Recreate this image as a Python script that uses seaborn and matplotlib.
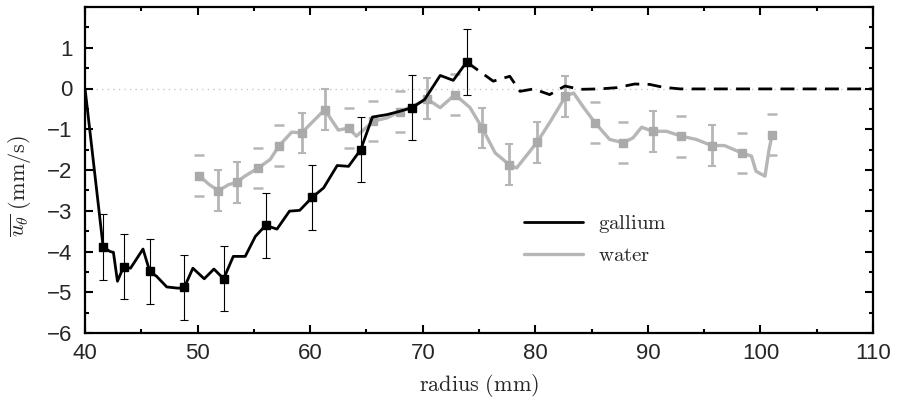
import numpy as np
import pandas as pd
import matplotlib
matplotlib.use("Agg")
import matplotlib.pyplot as plt
from matplotlib.ticker import MultipleLocator
import seaborn as sns

sns.set_theme(style="ticks")
plt.rcParams["font.family"] = ["Liberation Sans", "DejaVu Sans"]
plt.rcParams["mathtext.fontset"] = "cm"

# gallium: solid part (measured trace), squares carry error bars
ga_x = [40.0, 41.61, 42.22, 42.52, 42.88, 43.43, 44.04, 45.15, 45.75, 46.36, 47.26, 48.27,
        48.82, 49.58, 50.59, 51.45, 52.31, 53.17, 54.23, 55.13, 56.04, 57.05, 58.16, 59.07,
        60.18, 61.19, 62.4, 63.41, 64.49, 65.53, 66.84, 67.95, 69.06, 70.17, 71.55, 72.71, 73.9]
ga_y = [0.0, -3.89, -4.0, -4.02, -4.73, -4.37, -4.41, -3.94, -4.49, -4.61, -4.87, -4.9,
        -4.88, -4.41, -4.67, -4.43, -4.67, -4.12, -4.12, -3.63, -3.36, -3.45, -3.01, -2.99,
        -2.67, -2.44, -1.89, -1.91, -1.5, -0.7, -0.64, -0.56, -0.47, -0.27, 0.32, 0.2, 0.65]
# gallium: dashed continuation
ga_dash_x = [73.9, 76.26, 77.73, 78.64, 79.85, 81.27, 82.63, 83.99, 85.71, 87.22, 88.83,
             90.15, 91.36, 92.87, 110.0]
ga_dash_y = [0.65, 0.18, 0.3, -0.07, -0.01, -0.15, 0.06, -0.02, -0.01, 0.02, 0.11,
             0.1, 0.03, -0.01, -0.01]
ga_mx = [41.61, 43.43, 45.75, 48.82, 52.31, 56.04, 60.18, 64.49, 69.06, 73.9]
ga_my = [-3.89, -4.37, -4.49, -4.88, -4.67, -3.36, -2.67, -1.5, -0.47, 0.65]
ga_err = 0.8

# water
wa_x = [50.15, 51.0, 51.84, 52.75, 53.47, 54.2, 55.39, 56.45, 57.25, 58.36, 59.24, 61.29,
        62.5, 63.41, 64.1, 65.62, 66.84, 67.95, 69.16, 70.34, 71.55, 72.86, 74.2, 75.28,
        76.43, 77.68, 78.34, 80.15, 81.27, 82.34, 82.68, 83.4, 84.3, 85.3, 86.6, 87.82,
        88.68, 89.44, 90.41, 91.65, 92.97, 94.3, 95.66, 96.8, 98.32, 99.2, 99.6, 100.4,
        100.76, 101.04]
wa_y = [-2.14, -2.35, -2.51, -2.36, -2.3, -2.15, -1.95, -1.74, -1.4, -1.07, -1.09, -0.52,
        -1.02, -0.97, -1.17, -0.8, -0.72, -0.57, -0.43, -0.25, -0.47, -0.15, -0.47, -0.97,
        -1.58, -1.87, -1.95, -1.32, -0.84, -0.35, -0.19, -0.11, -0.47, -0.84, -1.25, -1.33,
        -1.21, -0.95, -1.05, -1.05, -1.17, -1.25, -1.4, -1.4, -1.58, -1.66, -2.03, -2.15,
        -1.5, -1.13]
wa_mx = [50.15, 51.84, 53.47, 55.39, 57.25, 59.24, 61.29, 63.41, 65.62, 67.95, 70.34, 72.86,
         75.28, 77.68, 80.15, 82.68, 85.3, 87.82, 90.41, 92.97, 95.66, 98.32, 101.04]
wa_my = [-2.14, -2.51, -2.3, -1.95, -1.4, -1.09, -0.52, -0.97, -0.8, -0.57, -0.25, -0.15,
         -0.97, -1.87, -1.32, -0.19, -0.84, -1.33, -1.05, -1.17, -1.4, -1.58, -1.13]
# True = full error bar, False = only the two cap dashes drawn
wa_full = [False, True, True, False, False, True, True, False, False, False, True, False,
           True, True, True, True, False, False, True, False, True, False, False]
wa_err = 0.5

gray = "#b6b6b6"

fig, ax = plt.subplots(figsize=(8.97, 4.0), dpi=100)
fig.subplots_adjust(left=0.0948, right=0.9733, top=0.9825, bottom=0.1675)

ax.axhline(0, color="#c8c8c8", lw=1.0, ls=(0, (1, 3)), zorder=0)

# water
wa = pd.DataFrame({"x": wa_x, "y": wa_y})
sns.lineplot(data=wa, x="x", y="y", sort=False, estimator=None, color=gray, lw=2.4,
             ax=ax, label="water", zorder=2)
wm = pd.DataFrame({"x": wa_mx, "y": wa_my, "full": wa_full})
full = wm[wm["full"]]
ax.errorbar(full["x"], full["y"], yerr=wa_err, fmt="none", ecolor=gray, elinewidth=2.0,
            capsize=3, capthick=1.5, zorder=2)
caps = wm[~wm["full"]]
ax.plot(caps["x"], caps["y"] + wa_err, ls="none", marker="_", ms=7, mew=1.8, color=gray, zorder=2)
ax.plot(caps["x"], caps["y"] - wa_err, ls="none", marker="_", ms=7, mew=1.8, color=gray, zorder=2)
ax.plot(wa_mx, wa_my, ls="none", marker="s", ms=6, color="#aaaaaa", zorder=3)

# gallium
ga = pd.DataFrame({"x": ga_x, "y": ga_y})
sns.lineplot(data=ga, x="x", y="y", sort=False, estimator=None, color="black", lw=2.0,
             ax=ax, label="gallium", zorder=4)
ax.plot(ga_dash_x, ga_dash_y, color="black", lw=2.0, ls=(0, (5, 3)), zorder=4)
ax.errorbar(ga_mx, ga_my, yerr=ga_err, fmt="none", ecolor="black", elinewidth=0.8,
            capsize=3, capthick=0.8, zorder=4)
ax.plot(ga_mx, ga_my, ls="none", marker="s", ms=5.5, color="black", zorder=5)

ax.set_xlim(40, 110)
ax.set_ylim(-6, 2)
ax.xaxis.set_major_locator(MultipleLocator(10))
ax.xaxis.set_minor_locator(MultipleLocator(5))
ax.yaxis.set_major_locator(MultipleLocator(1))
ax.yaxis.set_minor_locator(MultipleLocator(0.5))
ax.set_yticks([-6, -5, -4, -3, -2, -1, 0, 1])
ax.set_yticklabels(["\u22126", "\u22125", "\u22124", "\u22123", "\u22122", "\u22121", "0", "1"])
ax.tick_params(which="both", direction="in", top=True, right=True, width=1.5, color="black")
ax.tick_params(which="major", length=6, labelsize=16)
ax.tick_params(axis="x", which="major", pad=7)
ax.tick_params(axis="y", which="major", pad=9)
ax.tick_params(which="minor", length=3)
for s in ax.spines.values():
    s.set_linewidth(1.6)
    s.set_color("black")

ax.set_xlabel(r"$\mathrm{radius\ (mm)}$", fontsize=16, labelpad=6)
ax.set_ylabel(r"$\overline{u_\theta}\ \mathrm{(mm/s)}$", fontsize=16)
ax.yaxis.set_label_coords(-0.066, 0.45)

handles, labels = ax.get_legend_handles_labels()
order = [labels.index("gallium"), labels.index("water")]
leg = ax.legend([handles[i] for i in order], [r"$\mathrm{gallium}$", r"$\mathrm{water}$"],
                loc="center left", bbox_to_anchor=(0.533, 0.288), frameon=False,
                fontsize=15, handlelength=2.85, handletextpad=0.72, labelspacing=0.55)

fig.savefig("out.png", dpi=100)
